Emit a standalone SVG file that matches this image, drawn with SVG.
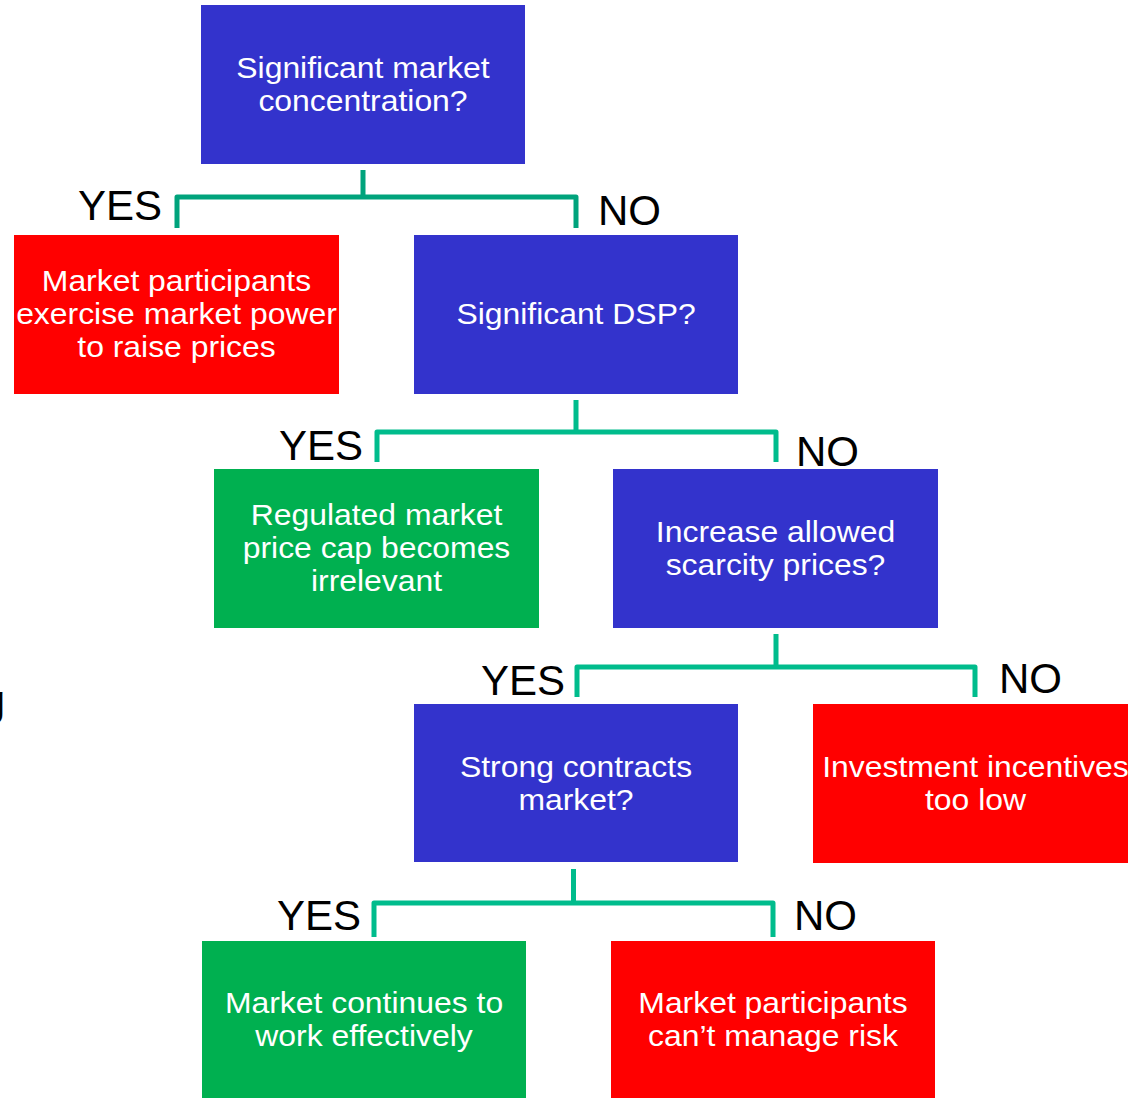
<svg xmlns="http://www.w3.org/2000/svg" width="1128" height="1098" viewBox="0 0 1128 1098">
<style>
.box{stroke:none}
.blue{fill:#3333CC}
.red{fill:#FF0000}
.green{fill:#00B050}
.t{font-family:"Liberation Sans",Arial,sans-serif;font-size:29px;fill:#FFFFFF;text-anchor:middle}
.lbl{font-family:"Liberation Sans",Arial,sans-serif;font-size:42px;fill:#000000}
.con{fill:none;stroke-width:5;stroke-linejoin:round;stroke-linecap:butt}
</style>
<rect width="1128" height="1098" fill="#FFFFFF"/>
<g id="connectors">
<path class="con" stroke="#00A37C" d="M363,170 V197 M177,228 V197 H576 V228"/>
<path class="con" stroke="#00BC8C" d="M576,400 V432 M377,462 V432 H776 V462"/>
<path class="con" stroke="#00BC8C" d="M776,634 V667 M577,697 V667 H975 V697"/>
<path class="con" stroke="#00BC8C" d="M573.5,869 V903 M374,937 V903 H773 V937"/>
</g>
<g id="labels">
<text class="lbl" x="78" y="220">YES</text>
<text class="lbl" x="598" y="225">NO</text>
<text class="lbl" x="279" y="460">YES</text>
<text class="lbl" x="796" y="466">NO</text>
<text class="lbl" x="481" y="695">YES</text>
<text class="lbl" x="999" y="693">NO</text>
<text class="lbl" x="277" y="930">YES</text>
<text class="lbl" x="794" y="930">NO</text>
<text class="lbl" x="5" y="715" text-anchor="end">g</text>
</g>
<g id="n1">
<rect class="box blue" x="201" y="5" width="324" height="159"/>
<g transform="translate(363,0) scale(1.1,1)"><text class="t" x="0" y="78">Significant market</text><text class="t" x="0" y="111">concentration?</text></g>
</g>
<g id="n2">
<rect class="box red" x="14" y="235" width="325" height="159"/>
<g transform="translate(176.5,0) scale(1.1,1)"><text class="t" x="0" y="291">Market participants</text><text class="t" x="0" y="324">exercise market power</text><text class="t" x="0" y="357">to raise prices</text></g>
</g>
<g id="n3">
<rect class="box blue" x="414" y="235" width="324" height="159"/>
<g transform="translate(576,0) scale(1.1,1)"><text class="t" x="0" y="324">Significant DSP?</text></g>
</g>
<g id="n4">
<rect class="box green" x="214" y="469" width="325" height="159"/>
<g transform="translate(376.5,0) scale(1.1,1)"><text class="t" x="0" y="525">Regulated market</text><text class="t" x="0" y="558">price cap becomes</text><text class="t" x="0" y="591">irrelevant</text></g>
</g>
<g id="n5">
<rect class="box blue" x="613" y="469" width="325" height="159"/>
<g transform="translate(775.5,0) scale(1.1,1)"><text class="t" x="0" y="542">Increase allowed</text><text class="t" x="0" y="575">scarcity prices?</text></g>
</g>
<g id="n6">
<rect class="box blue" x="414" y="704" width="324" height="158"/>
<g transform="translate(576,0) scale(1.1,1)"><text class="t" x="0" y="777">Strong contracts</text><text class="t" x="0" y="810">market?</text></g>
</g>
<g id="n7">
<rect class="box red" x="813" y="704" width="325" height="159"/>
<g transform="translate(975.5,0) scale(1.1,1)"><text class="t" x="0" y="777">Investment incentives</text><text class="t" x="0" y="810">too low</text></g>
</g>
<g id="n8">
<rect class="box green" x="202" y="941" width="324" height="160"/>
<g transform="translate(364,0) scale(1.1,1)"><text class="t" x="0" y="1013">Market continues to</text><text class="t" x="0" y="1046">work effectively</text></g>
</g>
<g id="n9">
<rect class="box red" x="611" y="941" width="324" height="160"/>
<g transform="translate(773,0) scale(1.1,1)"><text class="t" x="0" y="1013">Market participants</text><text class="t" x="0" y="1046">can’t manage risk</text></g>
</g>
</svg>
